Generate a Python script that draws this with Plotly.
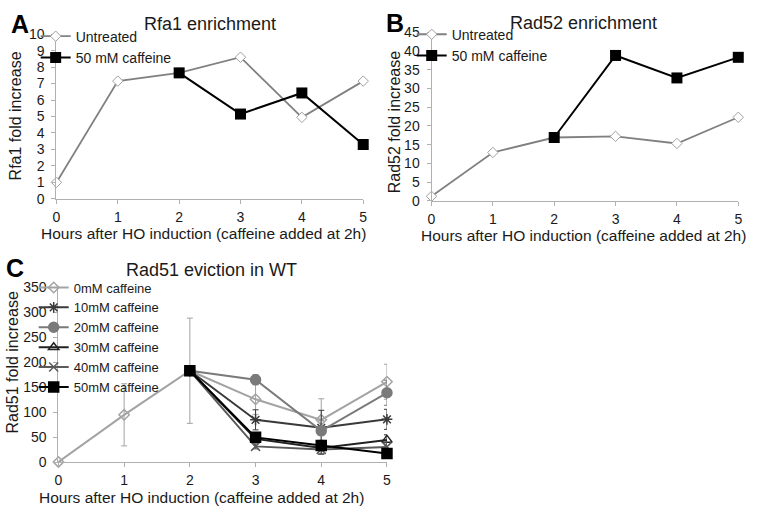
import plotly.graph_objects as go

hours = [0, 1, 2, 3, 4, 5]

# Panel A: Rfa1 enrichment
rfa1_untreated = [1.0, 7.15, 7.65, 8.6, 4.95, 7.15]
rfa1_caffeine = [None, None, 7.65, 5.15, 6.43, 3.3]

# Panel B: Rad52 enrichment
rad52_untreated = [1.2, 12.9, 16.9, 17.2, 15.3, 22.3]
rad52_caffeine = [None, None, 16.9, 38.8, 32.8, 38.3]

# Panel C: Rad51 eviction in WT
c_names = ["0mM caffeine", "10mM caffeine", "20mM caffeine", "30mM caffeine", "40mM caffeine", "50mM caffeine"]
c_values = [
    [1, 95, 183, 126, 85, 161],
    [None, None, 183, 85, 69, 86],
    [None, None, 183, 165, 63, 139],
    [None, None, 183, 47, 29, 45],
    [None, None, 183, 32, 26, 31],
    [None, None, 183, 50, 34, 18],
]
c_errors = [
    [0, 62, 105, 30, 42, 35],
    [0, 0, 0, 20, 35, 20],
    [0, 0, 0, 10, 20, 25],
    [0, 0, 0, 8, 12, 10],
    [0, 0, 0, 5, 10, 8],
    [0, 0, 0, 8, 10, 6],
]
c_colors = ["#a3a3a3", "#3a3a3a", "#7a7a7a", "#222222", "#5a5a5a", "#000000"]
c_symbols = ["diamond-open", "asterisk-open", "circle", "triangle-up-open", "x-thin-open", "square"]
c_sizes = [8, 9, 10, 9, 9, 10]

FONT = "Liberation Sans, Arial, sans-serif"
W, H = 768, 515

def px(x):
    return x / W

def py(y):
    return 1 - y / H

fig = go.Figure()

# Panel A
fig.add_trace(go.Scatter(x=hours, y=rfa1_untreated, name="Untreated", mode="lines+markers",
                         line=dict(color="#808080", width=1.8),
                         marker=dict(symbol="diamond", size=8, color="white", line=dict(color="#a0a0a0", width=1)),
                         xaxis="x", yaxis="y", legend="legend", cliponaxis=False))
fig.add_trace(go.Scatter(x=hours, y=rfa1_caffeine, name="50 mM caffeine", mode="lines+markers",
                         line=dict(color="#000000", width=2),
                         marker=dict(symbol="square", size=11, color="#000000"),
                         xaxis="x", yaxis="y", legend="legend", cliponaxis=False))

# Panel B
fig.add_trace(go.Scatter(x=hours, y=rad52_untreated, name="Untreated", mode="lines+markers",
                         line=dict(color="#808080", width=1.8),
                         marker=dict(symbol="diamond", size=8, color="white", line=dict(color="#a0a0a0", width=1)),
                         xaxis="x2", yaxis="y2", legend="legend2", cliponaxis=False))
fig.add_trace(go.Scatter(x=hours, y=rad52_caffeine, name="50 mM caffeine", mode="lines+markers",
                         line=dict(color="#000000", width=2),
                         marker=dict(symbol="square", size=11, color="#000000"),
                         xaxis="x2", yaxis="y2", legend="legend2", cliponaxis=False))

# Panel C
for name, vals, errs, col, sym, sz in zip(c_names, c_values, c_errors, c_colors, c_symbols, c_sizes):
    fig.add_trace(go.Scatter(x=hours, y=vals, name=name, mode="lines+markers",
                             line=dict(color=col, width=2),
                             marker=dict(symbol=sym, size=sz, color=col, line=dict(color=col, width=1.5)),
                             error_y=dict(type="data", array=errs, visible=True, color=col, thickness=1, width=3),
                             xaxis="x3", yaxis="y3", legend="legend3", cliponaxis=False))

axis_common = dict(showgrid=False, zeroline=False, showline=True, linecolor="#b0b0b0", linewidth=1,
                   ticks="outside", ticklen=4, tickcolor="#b0b0b0",
                   tickfont=dict(family=FONT, size=14, color="#1a1a1a"))
xaxis_common = dict(axis_common, ticklabelstandoff=1)
yaxis_common = dict(axis_common, ticklabelstandoff=4)

fig.update_layout(
    width=W, height=H,
    margin=dict(l=0, r=0, t=0, b=0),
    paper_bgcolor="white", plot_bgcolor="white",
    font=dict(family=FONT, color="#1a1a1a"),
    xaxis=dict(domain=[px(53), px(363)], range=[0, 5], dtick=1, anchor="y", **xaxis_common),
    yaxis=dict(domain=[py(197), py(27)], range=[0, 10], dtick=1, anchor="x", **yaxis_common),
    xaxis2=dict(domain=[px(432), px(742)], range=[0, 5], dtick=1, anchor="y2", **xaxis_common),
    yaxis2=dict(domain=[py(199), py(25)], range=[0, 45], dtick=5, anchor="x2", **yaxis_common),
    xaxis3=dict(domain=[px(55), px(387)], range=[0, 5], dtick=1, anchor="y3", **xaxis_common),
    yaxis3=dict(domain=[py(469), py(288)], range=[0, 350], dtick=50, anchor="x3", **yaxis_common),
    legend=dict(x=px(32), y=py(13), xanchor="left", yanchor="top", bgcolor="rgba(0,0,0,0)",
                font=dict(family=FONT, size=14, color="#1a1a1a"), itemwidth=30),
    legend2=dict(x=px(412), y=py(11), xanchor="left", yanchor="top", bgcolor="rgba(0,0,0,0)",
                 font=dict(family=FONT, size=14, color="#1a1a1a"), itemwidth=30),
    legend3=dict(x=px(30), y=py(273), xanchor="left", yanchor="top", bgcolor="rgba(0,0,0,0)",
                 font=dict(family=FONT, size=13, color="#1a1a1a"), itemwidth=30),
    showlegend=True,
)

annotations = [
    # panel letters
    dict(text="<b>A</b>", x=px(5), y=py(16), font=dict(size=25, color="#000")),
    dict(text="<b>B</b>", x=px(384), y=py(15), font=dict(size=25, color="#000")),
    dict(text="<b>C</b>", x=px(0), y=py(268), font=dict(size=25, color="#000")),
    # titles
    dict(text="Rfa1 enrichment", x=px(208), y=py(16), xanchor="center", font=dict(size=18)),
    dict(text="Rad52 enrichment", x=px(586), y=py(15), xanchor="center", font=dict(size=18)),
    dict(text="Rad51 eviction in WT", x=px(210), y=py(270), xanchor="center", font=dict(size=18)),
    # x axis titles
    dict(text="Hours after HO induction (caffeine added at 2h)", x=px(202), y=py(233), xanchor="center", font=dict(size=15.5)),
    dict(text="Hours after HO induction (caffeine added at 2h)", x=px(586), y=py(235), xanchor="center", font=dict(size=15.5)),
    dict(text="Hours after HO induction (caffeine added at 2h)", x=px(200), y=py(505), xanchor="center", font=dict(size=15.5)),
    # y axis titles
    dict(text="Rfa1 fold increase", x=px(12), y=py(111), textangle=-90, xanchor="center", font=dict(size=16)),
    dict(text="Rad52 fold increase", x=px(394), y=py(118), textangle=-90, xanchor="center", font=dict(size=16)),
    dict(text="Rad51 fold increase", x=px(9), y=py(366), textangle=-90, xanchor="center", font=dict(size=16)),
]
for a in annotations:
    a.setdefault("xanchor", "left")
    a.update(xref="paper", yref="paper", yanchor="middle", showarrow=False)
    a["font"] = dict(family=FONT, color=a["font"].get("color", "#1a1a1a"), size=a["font"]["size"])
    fig.add_annotation(**a)

fig.write_html("out.html", config={"displayModeBar": False},
               post_script="document.body.style.margin='0px';")
